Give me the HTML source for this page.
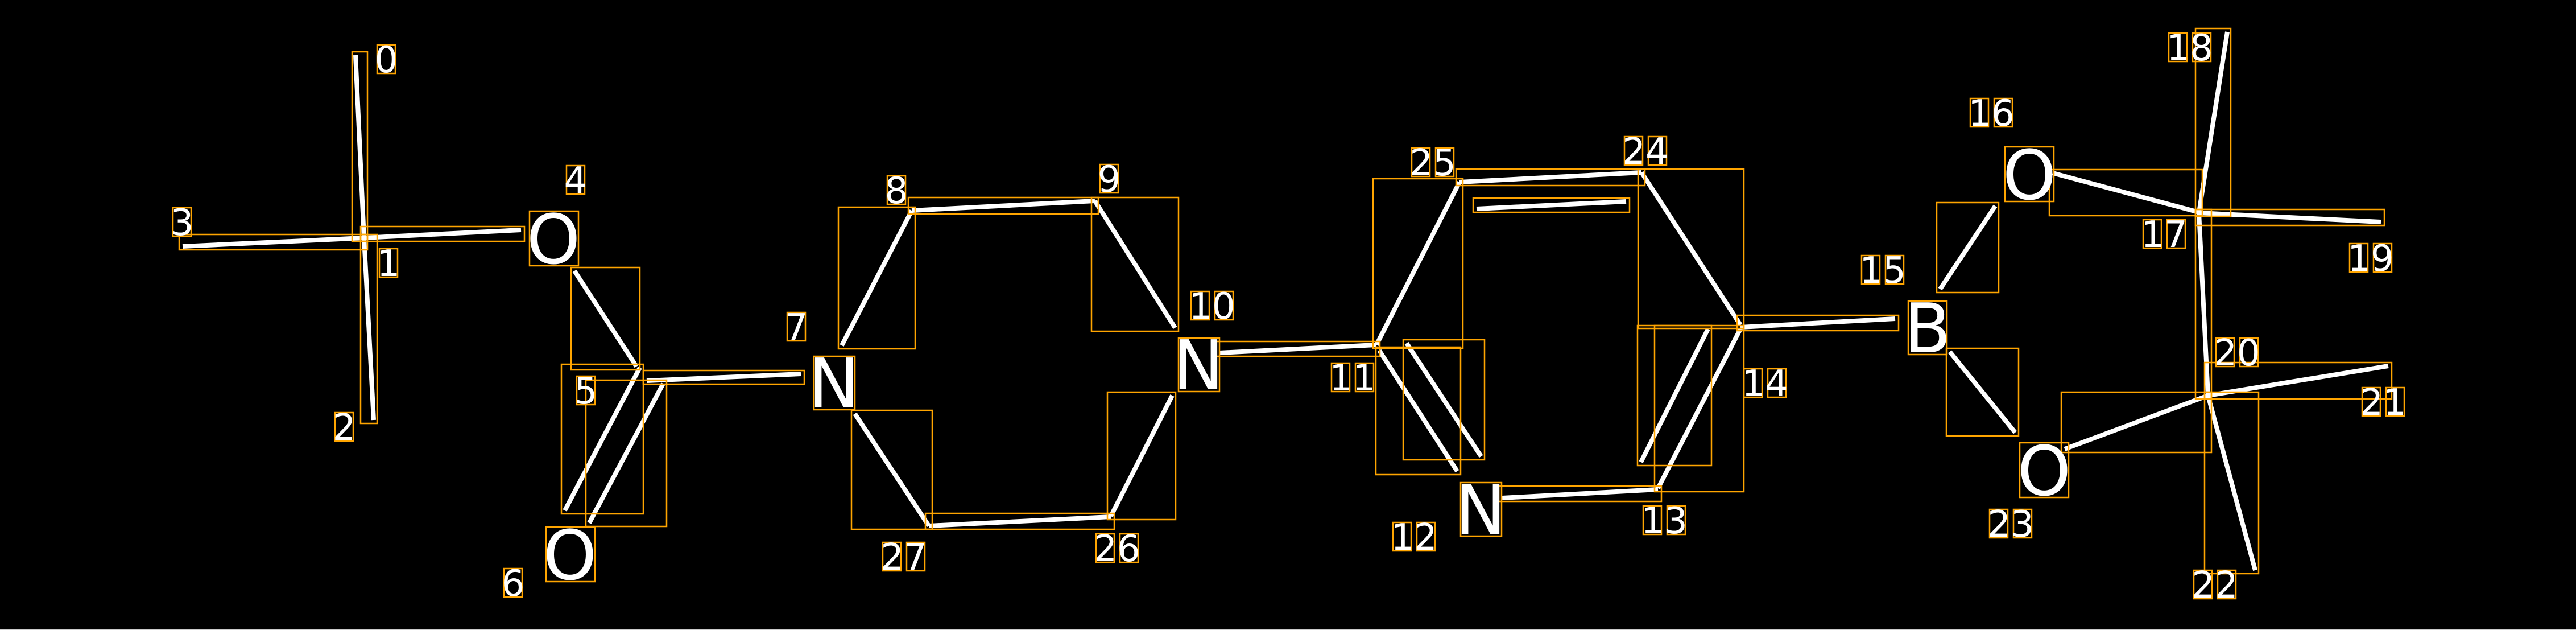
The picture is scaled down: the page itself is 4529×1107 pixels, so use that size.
<!DOCTYPE html>
<html><head><meta charset="utf-8"><style>
html,body{margin:0;padding:0;background:#000;}
svg{display:block;}
.b{stroke:#fff;stroke-width:8;stroke-linecap:butt;}
.r{fill:none;stroke:#ffa500;stroke-width:2.5;}
.d{font-family:"DejaVu Sans","Liberation Sans",sans-serif;font-size:64px;fill:#fff;text-anchor:middle;}
.L{font-family:"DejaVu Sans","Liberation Sans",sans-serif;font-size:120px;fill:#fff;text-anchor:middle;}
</style></head><body>
<svg width="4529" height="1107" viewBox="0 0 4529 1107" xmlns="http://www.w3.org/2000/svg">
<rect width="4529" height="1107" fill="#000"/>
<line x1="0" y1="1106" x2="4529" y2="1106" stroke="#ccc" stroke-width="2"/>
<g>
<line class="b" x1="625" y1="97" x2="640" y2="418"/>
<line class="b" x1="640" y1="418" x2="657" y2="738"/>
<line class="b" x1="321" y1="433" x2="640" y2="418"/>
<line class="b" x1="640" y1="418" x2="916" y2="404"/>
<line class="b" x1="1010" y1="476" x2="1119" y2="644"/>
<line class="b" x1="1125" y1="646" x2="993" y2="897"/>
<line class="b" x1="1166" y1="674" x2="1036" y2="919"/>
<line class="b" x1="1137" y1="669" x2="1408" y2="657"/>
<line class="b" x1="1603" y1="370" x2="1480" y2="607"/>
<line class="b" x1="1603" y1="370" x2="1925" y2="353"/>
<line class="b" x1="1925" y1="353" x2="2066" y2="576"/>
<line class="b" x1="1503" y1="727" x2="1633" y2="924"/>
<line class="b" x1="1633" y1="924" x2="1953" y2="908"/>
<line class="b" x1="1953" y1="907" x2="2061" y2="695"/>
<line class="b" x1="2144" y1="620" x2="2420" y2="606"/>
<line class="b" x1="2420" y1="606" x2="2566" y2="320"/>
<line class="b" x1="2425" y1="616" x2="2562" y2="828"/>
<line class="b" x1="2473" y1="603" x2="2604" y2="802"/>
<line class="b" x1="2566" y1="320" x2="2886" y2="303"/>
<line class="b" x1="2596" y1="367" x2="2859" y2="354"/>
<line class="b" x1="2886" y1="303" x2="3060" y2="571"/>
<line class="b" x1="3060" y1="578" x2="2915" y2="858"/>
<line class="b" x1="3003" y1="578" x2="2885" y2="812"/>
<line class="b" x1="2915" y1="860" x2="2641" y2="875"/>
<line class="b" x1="3060" y1="575" x2="3332" y2="560"/>
<line class="b" x1="3411" y1="508" x2="3508" y2="362"/>
<line class="b" x1="3609" y1="304" x2="3866" y2="373"/>
<line class="b" x1="3866" y1="374" x2="3916" y2="56"/>
<line class="b" x1="3866" y1="374" x2="4186" y2="390"/>
<line class="b" x1="3866" y1="374" x2="3882" y2="695"/>
<line class="b" x1="3882" y1="695" x2="4199" y2="643"/>
<line class="b" x1="3882" y1="695" x2="3965" y2="1002"/>
<line class="b" x1="3630" y1="789" x2="3882" y2="695"/>
<line class="b" x1="3428" y1="618" x2="3543" y2="760"/>
</g>
<g class="r">
<rect class="r" x="619" y="91" width="27" height="333"/>
<rect class="r" x="634" y="412" width="29" height="332"/>
<rect class="r" x="315" y="412" width="331" height="27"/>
<rect class="r" x="634" y="398" width="288" height="26"/>
<rect class="r" x="1004" y="470" width="121" height="180"/>
<rect class="r" x="987" y="640" width="144" height="263"/>
<rect class="r" x="1030" y="668" width="142" height="257"/>
<rect class="r" x="1131" y="651" width="283" height="24"/>
<rect class="r" x="1474" y="364" width="135" height="249"/>
<rect class="r" x="1597" y="347" width="334" height="29"/>
<rect class="r" x="1919" y="347" width="153" height="235"/>
<rect class="r" x="1497" y="721" width="142" height="209"/>
<rect class="r" x="1627" y="902" width="332" height="28"/>
<rect class="r" x="1947" y="689" width="120" height="224"/>
<rect class="r" x="2138" y="600" width="288" height="26"/>
<rect class="r" x="2414" y="314" width="158" height="298"/>
<rect class="r" x="2419" y="610" width="149" height="224"/>
<rect class="r" x="2467" y="597" width="143" height="211"/>
<rect class="r" x="2560" y="297" width="332" height="29"/>
<rect class="r" x="2590" y="348" width="275" height="25"/>
<rect class="r" x="2880" y="297" width="186" height="280"/>
<rect class="r" x="2909" y="572" width="157" height="292"/>
<rect class="r" x="2879" y="572" width="130" height="246"/>
<rect class="r" x="2635" y="854" width="286" height="27"/>
<rect class="r" x="3054" y="554" width="284" height="27"/>
<rect class="r" x="3405" y="356" width="109" height="158"/>
<rect class="r" x="3603" y="298" width="269" height="81"/>
<rect class="r" x="3860" y="50" width="62" height="330"/>
<rect class="r" x="3860" y="368" width="332" height="28"/>
<rect class="r" x="3860" y="368" width="28" height="333"/>
<rect class="r" x="3876" y="637" width="329" height="64"/>
<rect class="r" x="3876" y="689" width="95" height="319"/>
<rect class="r" x="3624" y="689" width="264" height="106"/>
<rect class="r" x="3422" y="612" width="127" height="154"/>
</g>
<g>
<rect class="r" x="663" y="79" width="32" height="50"/><text class="d" x="679" y="127">0</text>
<rect class="r" x="667" y="437" width="32" height="50"/><text class="d" x="683" y="485">1</text>
<rect class="r" x="589" y="725" width="32" height="50"/><text class="d" x="605" y="773">2</text>
<rect class="r" x="304" y="365" width="32" height="50"/><text class="d" x="320" y="413">3</text>
<rect class="r" x="996" y="291" width="32" height="50"/><text class="d" x="1012" y="339">4</text>
<rect class="r" x="1014" y="661" width="32" height="50"/><text class="d" x="1030" y="709">5</text>
<rect class="r" x="886" y="999" width="32" height="50"/><text class="d" x="902" y="1047">6</text>
<rect class="r" x="1384" y="549" width="32" height="50"/><text class="d" x="1400" y="597">7</text>
<rect class="r" x="1560" y="309" width="32" height="50"/><text class="d" x="1576" y="357">8</text>
<rect class="r" x="1934" y="289" width="32" height="50"/><text class="d" x="1950" y="337">9</text>

<rect class="r" x="2094" y="512" width="32" height="50"/><rect class="r" x="2136" y="512" width="32" height="50"/><text class="d" x="2131" y="560">10</text>
<rect class="r" x="2341" y="638" width="32" height="50"/><rect class="r" x="2383" y="638" width="32" height="50"/><text class="d" x="2378" y="686">11</text>
<rect class="r" x="2449" y="918" width="32" height="50"/><rect class="r" x="2491" y="918" width="32" height="50"/><text class="d" x="2486" y="966">12</text>
<rect class="r" x="2889" y="889" width="32" height="50"/><rect class="r" x="2931" y="889" width="32" height="50"/><text class="d" x="2926" y="937">13</text>
<rect class="r" x="3066" y="648" width="32" height="50"/><rect class="r" x="3108" y="648" width="32" height="50"/><text class="d" x="3103" y="696">14</text>
<rect class="r" x="3273" y="449" width="32" height="50"/><rect class="r" x="3315" y="449" width="32" height="50"/><text class="d" x="3310" y="497">15</text>
<rect class="r" x="3464" y="173" width="32" height="50"/><rect class="r" x="3506" y="173" width="32" height="50"/><text class="d" x="3501" y="221">16</text>
<rect class="r" x="3768" y="386" width="32" height="50"/><rect class="r" x="3810" y="386" width="32" height="50"/><text class="d" x="3805" y="434">17</text>
<rect class="r" x="3813" y="58" width="32" height="50"/><rect class="r" x="3855" y="58" width="32" height="50"/><text class="d" x="3850" y="106">18</text>
<rect class="r" x="4131" y="428" width="32" height="50"/><rect class="r" x="4173" y="428" width="32" height="50"/><text class="d" x="4168" y="476">19</text>
<rect class="r" x="3896" y="594" width="32" height="50"/><rect class="r" x="3938" y="594" width="32" height="50"/><text class="d" x="3933" y="642">20</text>
<rect class="r" x="4153" y="681" width="32" height="50"/><rect class="r" x="4195" y="681" width="32" height="50"/><text class="d" x="4190" y="729">21</text>
<rect class="r" x="3857" y="1002" width="32" height="50"/><rect class="r" x="3899" y="1002" width="32" height="50"/><text class="d" x="3894" y="1050">22</text>
<rect class="r" x="3498" y="895" width="32" height="50"/><rect class="r" x="3540" y="895" width="32" height="50"/><text class="d" x="3535" y="943">23</text>
<rect class="r" x="2856" y="240" width="32" height="50"/><rect class="r" x="2898" y="240" width="32" height="50"/><text class="d" x="2893" y="288">24</text>
<rect class="r" x="2482" y="260" width="32" height="50"/><rect class="r" x="2524" y="260" width="32" height="50"/><text class="d" x="2519" y="308">25</text>
<rect class="r" x="1927" y="938" width="32" height="50"/><rect class="r" x="1969" y="938" width="32" height="50"/><text class="d" x="1964" y="986">26</text>
<rect class="r" x="1552" y="953" width="32" height="50"/><rect class="r" x="1594" y="953" width="32" height="50"/><text class="d" x="1589" y="1001">27</text>
</g>
<g>
<rect class="r" x="931" y="371" width="86" height="96"/><text class="L" x="973" y="463">O</text>
<rect class="r" x="960" y="926" width="86" height="96"/><text class="L" x="1002" y="1018">O</text>
<rect class="r" x="1431" y="626" width="72" height="94"/><text class="L" x="1466" y="716">N</text>
<rect class="r" x="2072" y="594" width="72" height="94"/><text class="L" x="2107" y="684">N</text>
<rect class="r" x="2568" y="848" width="72" height="94"/><text class="L" x="2603" y="938">N</text>
<rect class="r" x="3355" y="529" width="68" height="94"/><text class="L" x="3389" y="619">B</text>
<rect class="r" x="3525" y="258" width="86" height="96"/><text class="L" x="3568" y="350">O</text>
<rect class="r" x="3551" y="778" width="86" height="96"/><text class="L" x="3594" y="870">O</text>
</g>
</svg>
</body></html>
